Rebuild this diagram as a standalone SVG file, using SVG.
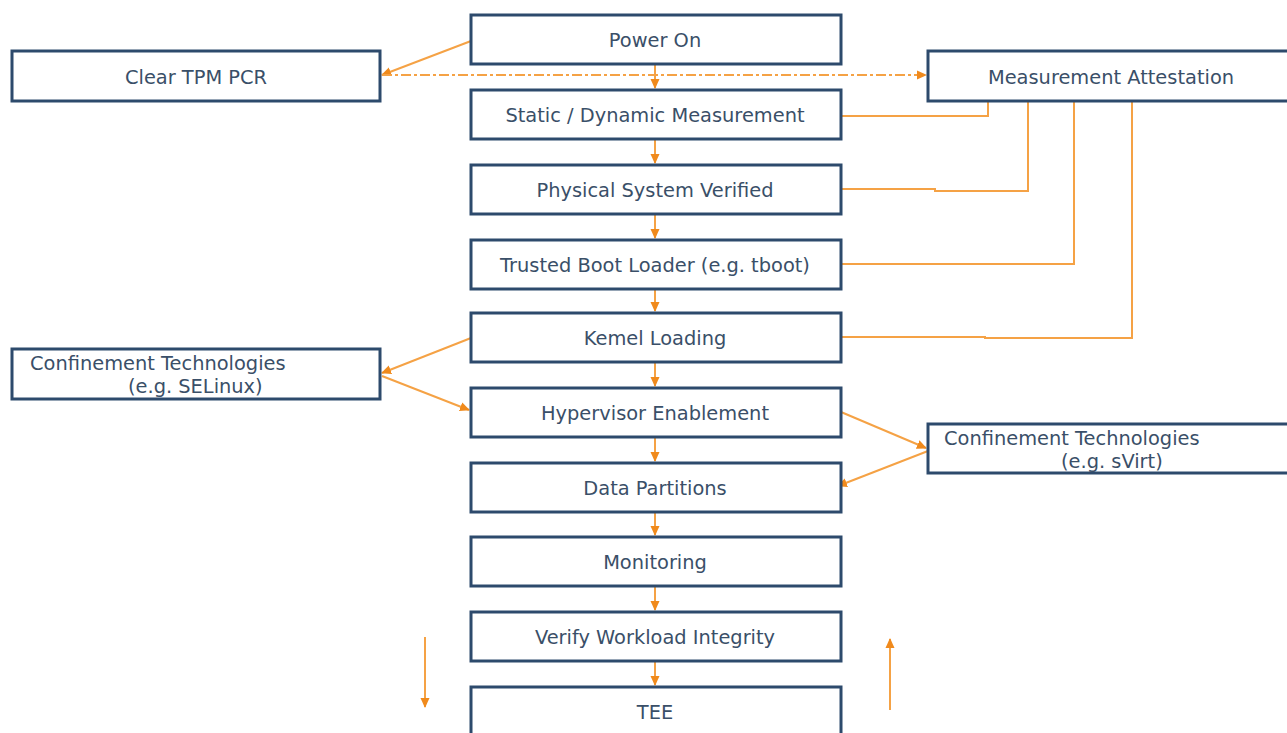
<svg xmlns="http://www.w3.org/2000/svg" width="1287" height="733" viewBox="0 0 1287 733">
<style>
.box{fill:#fff;stroke:#2d4a6c;stroke-width:3}
.t{font-family:"DejaVu Sans",Verdana,sans-serif;font-size:19.4px;fill:#3a4f68}
.c{text-anchor:middle}
.ln{fill:none;stroke:#f5a245;stroke-width:2}
.dd{stroke-dasharray:10 3 3 3}
</style>
<defs>
<marker id="ah" markerWidth="11" markerHeight="11" refX="9" refY="5.5" orient="auto" markerUnits="userSpaceOnUse">
<path d="M0,1 L10,5.5 L0,10 z" fill="#f08a1c"/>
</marker>
</defs>
<g id="connectors">
<line class="ln" x1="655" y1="64" x2="655" y2="88" marker-end="url(#ah)"/>
<line class="ln" x1="655" y1="139" x2="655" y2="163" marker-end="url(#ah)"/>
<line class="ln" x1="655" y1="214" x2="655" y2="238" marker-end="url(#ah)"/>
<line class="ln" x1="655" y1="289" x2="655" y2="311" marker-end="url(#ah)"/>
<line class="ln" x1="655" y1="362" x2="655" y2="386" marker-end="url(#ah)"/>
<line class="ln" x1="655" y1="437" x2="655" y2="461" marker-end="url(#ah)"/>
<line class="ln" x1="655" y1="512" x2="655" y2="535" marker-end="url(#ah)"/>
<line class="ln" x1="655" y1="586" x2="655" y2="610" marker-end="url(#ah)"/>
<line class="ln" x1="655" y1="661" x2="655" y2="685" marker-end="url(#ah)"/>
<line class="ln" x1="471" y1="41" x2="382" y2="75" marker-end="url(#ah)"/>
<line class="ln dd" x1="382" y1="75" x2="926" y2="75" marker-end="url(#ah)"/>
<polyline class="ln" points="841,116 988,116 988,101"/>
<polyline class="ln" points="841,189 935,189 935,191 1028,191 1028,101"/>
<polyline class="ln" points="841,264 1074,264 1074,101"/>
<polyline class="ln" points="841,337 985,337 985,338 1132,338 1132,101"/>
<line class="ln" x1="471" y1="338" x2="382" y2="373" marker-end="url(#ah)"/>
<line class="ln" x1="382" y1="376" x2="469" y2="410" marker-end="url(#ah)"/>
<line class="ln" x1="841" y1="412" x2="926" y2="448" marker-end="url(#ah)"/>
<line class="ln" x1="928" y1="451" x2="838" y2="486" marker-end="url(#ah)"/>
<line class="ln" x1="425" y1="637" x2="425" y2="707" marker-end="url(#ah)"/>
<line class="ln" x1="890" y1="710" x2="890" y2="639" marker-end="url(#ah)"/>
</g>
<g id="power-on"><rect class="box" x="471" y="15" width="370" height="49"/><text class="t c" x="655" y="47">Power On</text></g>
<g id="static-dynamic"><rect class="box" x="471" y="90" width="370" height="49"/><text class="t c" x="655" y="122">Static / Dynamic Measurement</text></g>
<g id="physical"><rect class="box" x="471" y="165" width="370" height="49"/><text class="t c" x="655" y="197">Physical System Verified</text></g>
<g id="trusted-boot"><rect class="box" x="471" y="240" width="370" height="49"/><text class="t c" x="655" y="272">Trusted Boot Loader (e.g. tboot)</text></g>
<g id="kernel"><rect class="box" x="471" y="313" width="370" height="49"/><text class="t c" x="655" y="345">Kemel Loading</text></g>
<g id="hypervisor"><rect class="box" x="471" y="388" width="370" height="49"/><text class="t c" x="655" y="420">Hypervisor Enablement</text></g>
<g id="data-partitions"><rect class="box" x="471" y="463" width="370" height="49"/><text class="t c" x="655" y="495">Data Partitions</text></g>
<g id="monitoring"><rect class="box" x="471" y="537" width="370" height="49"/><text class="t c" x="655" y="569">Monitoring</text></g>
<g id="verify"><rect class="box" x="471" y="612" width="370" height="49"/><text class="t c" x="655" y="644">Verify Workload Integrity</text></g>
<g id="tee"><rect class="box" x="471" y="687" width="370" height="60"/><text class="t c" x="655" y="719">TEE</text></g>
<g id="clear-tpm"><rect class="box" x="12" y="51" width="368" height="50"/><text class="t c" x="196" y="84">Clear TPM PCR</text></g>
<g id="measurement-attestation"><rect class="box" x="928" y="51" width="370" height="50"/><text class="t c" x="1111" y="84">Measurement Attestation</text></g>
<g id="confinement-selinux"><rect class="box" x="12" y="349" width="368" height="50"/><text class="t" x="30" y="370">Confinement Technologies</text><text class="t" x="128" y="393">(e.g. SELinux)</text></g>
<g id="confinement-svirt"><rect class="box" x="928" y="424" width="370" height="49"/><text class="t" x="944" y="445">Confinement Technologies</text><text class="t" x="1061" y="468">(e.g. sVirt)</text></g>
</svg>
